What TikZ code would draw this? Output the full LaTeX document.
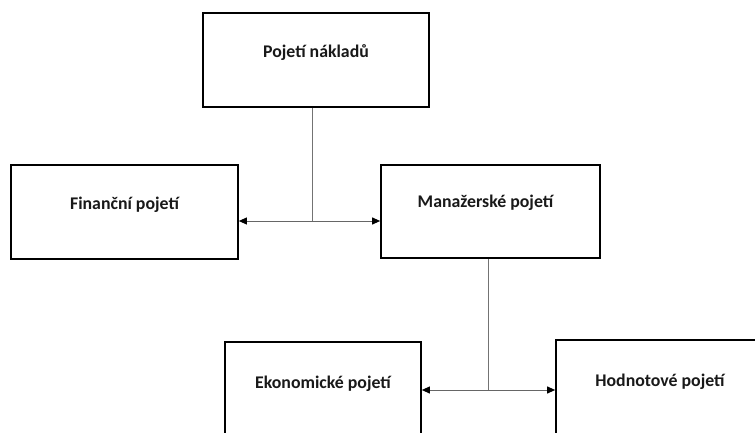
\documentclass[tikz,border=0pt]{standalone}
\usepackage{fontspec}
\setmainfont{Carlito}
\usetikzlibrary{arrows.meta}
\begin{document}
\begin{tikzpicture}[x=1pt,y=-1pt,
  box/.style={draw=black, line width=1.7pt, fill=white, inner sep=0pt},
  boxtext/.style={font=\bfseries\fontsize{17.8}{20}\selectfont, text=black!90},
  link/.style={draw=black!55, line width=1pt},
  twoway/.style={draw=black!60, line width=1pt,
    {Triangle[length=8pt,width=7pt,color=black]}-{Triangle[length=8pt,width=7pt,color=black]}}]
\useasboundingbox (0,0) rectangle (755,433);
\clip (0,0) rectangle (755,433);

% boxes
\node[box, minimum width=226pt, minimum height=94pt,
  label={[boxtext, yshift=7pt]center:Pojetí nákladů}] (naklady) at (316,60) {};
\node[box, minimum width=227pt, minimum height=94pt,
  label={[boxtext, yshift=7pt]center:Finanční pojetí}] (financni) at (124.5,212) {};
\node[box, minimum width=219pt, minimum height=93pt,
  label={[boxtext, yshift=8.5pt, xshift=-5pt]center:Manažerské pojetí}] (manazerske) at (490.5,211.5) {};
\node[box, minimum width=196pt, minimum height=96pt,
  label={[boxtext, yshift=6pt]center:Ekonomické pojetí}] (ekonomicke) at (323,390) {};
\node[box, minimum width=208pt, minimum height=96pt,
  label={[boxtext, yshift=6pt]center:Hodnotové pojetí}] (hodnotove) at (660,388) {};

% branching connectors
\coordinate (j1) at (312,221);
\coordinate (j2) at (488,390);
\draw[link] (naklady.south -| j1) -- (j1);
\draw[twoway] (financni.east |- j1) -- (manazerske.west |- j1);
\draw[link] (manazerske.south -| j2) -- (j2);
\draw[twoway] (ekonomicke.east |- j2) -- (hodnotove.west |- j2);
\end{tikzpicture}
\end{document}
